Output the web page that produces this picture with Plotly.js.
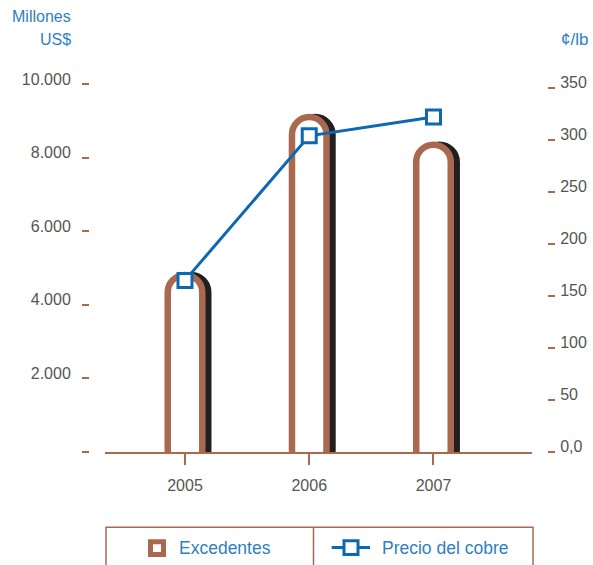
<!DOCTYPE html>
<html>
<head>
<meta charset="utf-8">
<script src="https://cdn.plot.ly/plotly-3.0.1.min.js"></script>
<style>
  html, body { margin: 0; padding: 0; background: #ffffff; }
  #chart { width: 593px; height: 565px; }
</style>
</head>
<body>
<div id="chart"></div>
<script>
// ---- data ----
var years = [2005, 2006, 2007];
var excedentes = [4810, 9100, 8350];          // Millones US$
var precioCobre = [165, 304, 322];            // ¢/lb
var leftTickVals = [0, 2000, 4000, 6000, 8000, 10000];
var leftTickText = ['', '2.000', '4.000', '6.000', '8.000', '10.000'];
var rightTickVals = [0, 50, 100, 150, 200, 250, 300, 350];
var rightTickText = ['0,0', '50', '100', '150', '200', '250', '300', '350'];
var seriesNames = ['Excedentes', 'Precio del cobre'];

// ---- style ----
var BROWN = '#a8694e';
var SHADOW = '#231f20';
var BLUE_LINE = '#0c68b1';
var BLUE_TEXT = '#2f7fc0';
var GRAY = '#555555';
var FONT = 'Liberation Sans, Arial, sans-serif';

var W = 593, H = 565;
var ML = 89, MR = 46, MT = 84, MB = 112.7;
var PW = W - ML - MR, PH = H - MT - MB;
function px2x(p) { return (p - ML) / PW; }
function py2y(p) { return (H - MB - p) / PH; }

var BASE = -400;          // extend bars below the axis (clipped) so no bottom stroke shows
var barWidth = 0.278;
var shadowShift = 0.048;

var shadowTrace = {
  type: 'bar', x: years, y: excedentes.map(function (v) { return v - BASE; }),
  base: BASE, width: barWidth, offset: -barWidth / 2 + shadowShift,
  marker: { color: SHADOW, line: { color: SHADOW, width: 6.5 }, cornerradius: '50%' },
  yaxis: 'y', xaxis: 'x', showlegend: false, hoverinfo: 'skip'
};
var barTrace = {
  type: 'bar', name: seriesNames[0], x: years, y: excedentes.map(function (v) { return v - BASE; }),
  base: BASE, width: barWidth, offset: -barWidth / 2,
  marker: { color: '#ffffff', line: { color: BROWN, width: 6.5 }, cornerradius: '50%' },
  yaxis: 'y', xaxis: 'x', showlegend: false
};
var lineTrace = {
  type: 'scatter', mode: 'lines+markers', name: seriesNames[1],
  x: years, y: precioCobre, yaxis: 'y2', xaxis: 'x',
  line: { color: BLUE_LINE, width: 3 },
  marker: { symbol: 'square', size: 14, color: '#ffffff', line: { color: BLUE_LINE, width: 3 } },
  showlegend: false, cliponaxis: false
};

var tickFont = { family: FONT, size: 16, color: GRAY };

var layout = {
  width: W, height: H,
  margin: { l: ML, r: MR, t: MT, b: MB, autoexpand: false },
  paper_bgcolor: '#ffffff', plot_bgcolor: 'rgba(0,0,0,0)',
  barmode: 'overlay',
  showlegend: false,
  hovermode: false,
  xaxis: {
    domain: [px2x(105), px2x(532)],
    range: [2004.356, 2007.793],
    tickvals: years, ticktext: years.map(String),
    showline: true, linecolor: BROWN, linewidth: 2,
    ticks: 'outside', ticklen: 11, tickwidth: 2, tickcolor: BROWN,
    ticklabelstandoff: 7,
    tickfont: tickFont, showgrid: false, zeroline: false, fixedrange: true
  },
  yaxis: {
    anchor: 'free', position: 0, range: [0, 10000],
    tickvals: leftTickVals, ticktext: leftTickText,
    ticks: 'outside', ticklen: 7, tickwidth: 2, tickcolor: BROWN,
    ticklabelstandoff: 8, ticklabelshift: -5,
    showline: false, showgrid: false, zeroline: false,
    tickfont: tickFont, fixedrange: true
  },
  yaxis2: {
    anchor: 'free', position: 1, side: 'right', overlaying: 'y', range: [0, 353.8],
    tickvals: rightTickVals, ticktext: rightTickText,
    ticks: 'outside', ticklen: 7, tickwidth: 2, tickcolor: BROWN,
    ticklabelstandoff: 2, ticklabelshift: -6,
    showline: false, showgrid: false, zeroline: false,
    tickfont: tickFont, fixedrange: true
  },
  shapes: [
    // legend frame
    { type: 'rect', xref: 'paper', yref: 'paper', x0: px2x(106), x1: px2x(533), y0: py2y(590), y1: py2y(527.5),
      line: { color: BROWN, width: 1.5 }, fillcolor: 'rgba(0,0,0,0)', layer: 'above' },
    { type: 'line', xref: 'paper', yref: 'paper', x0: px2x(313.5), x1: px2x(313.5), y0: py2y(590), y1: py2y(527.5),
      line: { color: BROWN, width: 1.5 }, layer: 'above' },
    // legend symbol: Excedentes
    { type: 'rect', xref: 'paper', yref: 'paper', x0: px2x(150.5), x1: px2x(163.5), y0: py2y(555), y1: py2y(542),
      line: { color: BROWN, width: 5 }, fillcolor: '#ffffff', layer: 'above' },
    // legend symbol: Precio del cobre
    { type: 'line', xref: 'paper', yref: 'paper', x0: px2x(331.7), x1: px2x(370), y0: py2y(548), y1: py2y(548),
      line: { color: BLUE_LINE, width: 3 }, layer: 'above' },
    { type: 'rect', xref: 'paper', yref: 'paper', x0: px2x(344), x1: px2x(358), y0: py2y(555), y1: py2y(541),
      line: { color: BLUE_LINE, width: 3 }, fillcolor: '#ffffff', layer: 'above' }
  ],
  annotations: [
    { xref: 'paper', yref: 'paper', x: px2x(72.5), y: py2y(16.5), xanchor: 'right', yanchor: 'middle',
      text: 'Millones', showarrow: false, font: { family: FONT, size: 16, color: BLUE_TEXT } },
    { xref: 'paper', yref: 'paper', x: px2x(72.5), y: py2y(39.5), xanchor: 'right', yanchor: 'middle',
      text: 'US$', showarrow: false, font: { family: FONT, size: 16, color: BLUE_TEXT } },
    { xref: 'paper', yref: 'paper', x: px2x(559), y: py2y(39.5), xanchor: 'left', yanchor: 'middle',
      text: '¢/lb', showarrow: false, font: { family: FONT, size: 17, color: BLUE_TEXT } },
    { xref: 'paper', yref: 'paper', x: px2x(176.5), y: py2y(548), xanchor: 'left', yanchor: 'middle',
      text: seriesNames[0], showarrow: false, font: { family: FONT, size: 17.5, color: BLUE_TEXT } },
    { xref: 'paper', yref: 'paper', x: px2x(380), y: py2y(548), xanchor: 'left', yanchor: 'middle',
      text: seriesNames[1], showarrow: false, font: { family: FONT, size: 17.5, color: BLUE_TEXT } }
  ]
};

Plotly.newPlot('chart', [shadowTrace, barTrace, lineTrace], layout, { staticPlot: true, displayModeBar: false });
</script>
</body>
</html>
